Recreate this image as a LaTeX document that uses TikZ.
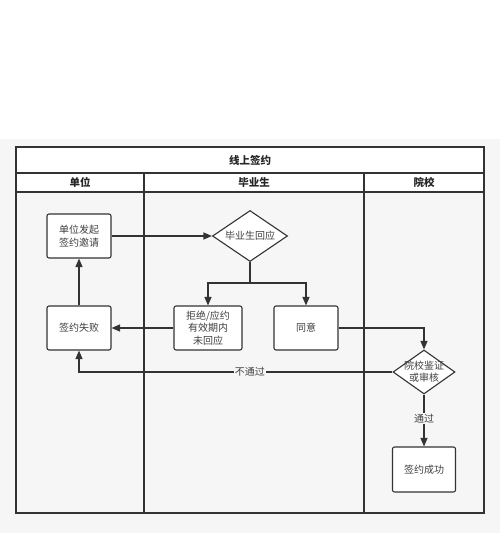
\documentclass[tikz,border=0pt]{standalone}
\usepackage{fontspec}
\setmainfont{Noto Sans CJK SC}
\usetikzlibrary{arrows.meta,shapes.geometric}
\definecolor{linec}{HTML}{333333}
\definecolor{bgc}{HTML}{F6F6F6}
\tikzset{
  box/.style={draw=linec, line width=1.1pt, rounded corners=2pt, fill=white, minimum width=64pt, minimum height=44pt, align=center, font=\fontsize{10}{12.5}\selectfont, text=black!75, inner sep=1pt},
  dia/.style={draw=linec, line width=1.1pt, diamond, fill=white, align=center, font=\fontsize{10}{12}\selectfont, text=black!75, inner sep=-6pt, aspect=1.45},
  flow/.style={draw=linec, line width=1.1pt, -{Triangle[length=8.5pt,width=7pt]}},
  lane/.style={draw=linec, line width=1.1pt},
  lbl/.style={font=\fontsize{10}{12}\selectfont, text=black!75, fill=bgc, inner sep=1pt},
  hdr/.style={font=\fontsize{10.5}{12}\selectfont\bfseries, text=black!85}
}
\begin{document}
\begin{tikzpicture}[x=1pt,y=-1pt]
\useasboundingbox (0,0) rectangle (500,533);
\fill[white] (0,0) rectangle (500,533);
\fill[bgc] (0,139) rectangle (500,533);
% frame
\fill[white] (16,147) rectangle (484,192);
\draw[lane] (16,147) rectangle (484,513);
\draw[lane] (16,173) -- (484,173);
\draw[lane] (16,192) -- (484,192);
\draw[lane] (144,173) -- (144,513);
\draw[lane] (364,173) -- (364,513);
\node[hdr] (title) at (250,160) {线上签约};
\node[hdr] (h1) at (80,182.5) {单位};
\node[hdr] (h2) at (254,182.5) {毕业生};
\node[hdr] (h3) at (424,182.5) {院校};
% nodes
\node[box] (start) at (79,236) {单位发起\\签约邀请};
\node[dia, minimum width=75pt, minimum height=51pt] (resp) at (250,236) {毕业生回应};
\node[box, minimum width=68pt] (reject) at (208,328) {拒绝/应约\\有效期内\\未回应};
\node[box] (agree) at (306,328) {同意};
\node[box] (fail) at (79,328) {签约失败};
\node[dia, minimum width=62pt, minimum height=44pt] (check) at (424,372) {院校鉴证\\或审核};
\node[box, minimum width=63pt, minimum height=45pt] (succ) at (424,469.5) {签约成功};
\coordinate (split) at (250,283);
\coordinate (failturn) at (79,372);
% connectors
\draw[flow] (start.east) -- (resp.west);
\draw[lane] (resp.south) -- (split);
\draw[flow] (split) -| (reject.north);
\draw[flow] (split) -| (agree.north);
\draw[flow] (reject.west) -- (fail.east);
\draw[flow] (fail.north) -- (start.south);
\draw[flow] (agree.east) -| (check.north);
\draw[flow] (check.west) -- node[lbl, pos=0.455] (nolbl) {不通过} (failturn) -- (fail.south);
\draw[flow] (check.south) -- node[lbl, pos=0.47] (yeslbl) {通过} (succ.north);
\end{tikzpicture}
\end{document}
